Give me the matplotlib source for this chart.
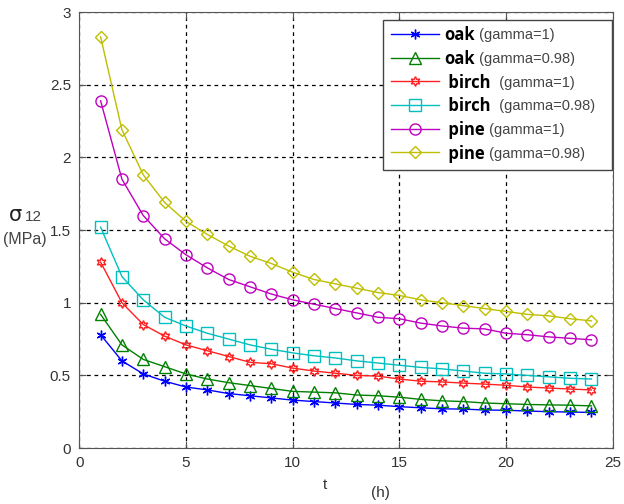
import matplotlib
matplotlib.use("Agg")
import matplotlib.pyplot as plt

t = list(range(1, 25))

oak_g1 = [0.78, 0.60, 0.51, 0.46, 0.42, 0.40, 0.375, 0.36, 0.345, 0.33, 0.32, 0.31,
          0.30, 0.295, 0.285, 0.277, 0.27, 0.268, 0.262, 0.26, 0.255, 0.25, 0.248, 0.245]
oak_g098 = [0.92, 0.71, 0.61, 0.56, 0.51, 0.475, 0.45, 0.43, 0.41, 0.39, 0.385, 0.38,
            0.365, 0.36, 0.35, 0.335, 0.325, 0.32, 0.31, 0.305, 0.30, 0.297, 0.295, 0.29]
birch_g1 = [1.28, 1.00, 0.85, 0.77, 0.71, 0.67, 0.63, 0.59, 0.58, 0.55, 0.53, 0.515,
            0.50, 0.495, 0.475, 0.46, 0.455, 0.447, 0.44, 0.432, 0.42, 0.413, 0.406, 0.40]
birch_g098 = [1.52, 1.18, 1.02, 0.90, 0.84, 0.79, 0.75, 0.71, 0.68, 0.655, 0.635, 0.62,
              0.60, 0.585, 0.57, 0.555, 0.545, 0.53, 0.515, 0.51, 0.50, 0.49, 0.48, 0.475]
pine_g1 = [2.39, 1.85, 1.60, 1.44, 1.33, 1.24, 1.16, 1.11, 1.06, 1.02, 0.99, 0.96,
           0.93, 0.90, 0.89, 0.86, 0.84, 0.825, 0.82, 0.79, 0.78, 0.765, 0.755, 0.745]
pine_g098 = [2.83, 2.19, 1.88, 1.69, 1.56, 1.47, 1.39, 1.32, 1.27, 1.21, 1.16, 1.13,
             1.10, 1.07, 1.05, 1.02, 1.00, 0.98, 0.96, 0.94, 0.92, 0.91, 0.89, 0.875]

names = ["oak", "oak", " birch", " birch", " pine", " pine"]
gammas = [" (gamma=1)", " (gamma=0.98)", "  (gamma=1)", "  (gamma=0.98)", " (gamma=1)", " (gamma=0.98)"]

series = [oak_g1, oak_g098, birch_g1, birch_g098, pine_g1, pine_g098]
colors = ["#0000ff", "#008000", "#ff2020", "#00bfbf", "#bf00bf", "#bfbf00"]
markers = [(6, 2, 0), "^", (6, 1, 0), "s", "o", "D"]
msizes = [7, 8, 7, 8, 8, 6.5]

plt.rcParams['font.family'] = ['Liberation Sans', 'DejaVu Sans']

fig = plt.figure(figsize=(6.24, 5.04), dpi=100)
ax = fig.add_axes([0.127, 0.111, 0.855, 0.865])

for y, c, m, ms, nm, g in zip(series, colors, markers, msizes, names, gammas):
    ax.plot(t, y, color=c, marker=m, markersize=ms, markerfacecolor='none',
            markeredgecolor=c, markeredgewidth=1, linewidth=1, label=nm + g)

ax.set_xlim(0, 25)
ax.set_ylim(0, 3)
ax.set_xticks([0, 5, 10, 15, 20, 25])
ax.set_yticks([0, 0.5, 1, 1.5, 2, 2.5, 3])
ax.set_yticklabels(["0", "0.5", "1", "1.5", "2", "2.5", "3"])
ax.grid(True, color='black', linestyle=(0, (3, 3)), linewidth=0.9)
ax.tick_params(direction='in', length=5, top=True, right=True, labelsize=11,
               labelcolor='#333333', color='#555555', pad=6)
for s in ax.spines.values():
    s.set_color('#555555')

leg = ax.legend(loc='upper right', bbox_to_anchor=(0.981, 0.961), bbox_transform=fig.transFigure,
                borderaxespad=0, prop={'size': 12}, handlelength=2.9, handletextpad=0.3,
                labelspacing=0.52, borderpad=0.5, fancybox=False, framealpha=1,
                edgecolor='#444444')
leg.get_frame().set_linewidth(1)

# legend labels: bold name + smaller grey gamma part, drawn over the hidden label text
fig.canvas.draw()
r = fig.canvas.get_renderer()
W, H = fig.bbox.width, fig.bbox.height
for txt, nm, g in zip(leg.get_texts(), names, gammas):
    bb = txt.get_window_extent(r)
    txt.set_visible(False)
    yc = (bb.y0 + bb.y1) / 2 / H
    a = fig.text(bb.x0 / W, yc, nm, va='center', ha='left', fontsize=12,
                 fontweight='bold', color='black', family='Open Sans')
    ab = a.get_window_extent(r)
    fig.text(ab.x1 / W, yc, g, va='center', ha='left', fontsize=10.5, color='#444444')

fig.text(0.015, 0.5615, "σ", fontsize=15, color='#222222',
         va='baseline', family='DejaVu Sans')
fig.text(0.040, 0.5615, "12", fontsize=11, color='#444444', va='baseline')
fig.text(0.005, 0.524, "(MPa)", fontsize=11.5, color='#444444', va='center')
fig.text(0.521, 0.038, "t", fontsize=11, color='#333333', ha='center', va='center')
fig.text(0.609, 0.022, "(h)", fontsize=11, color='#333333', ha='center', va='center')

fig.savefig("out.png", dpi=100)
